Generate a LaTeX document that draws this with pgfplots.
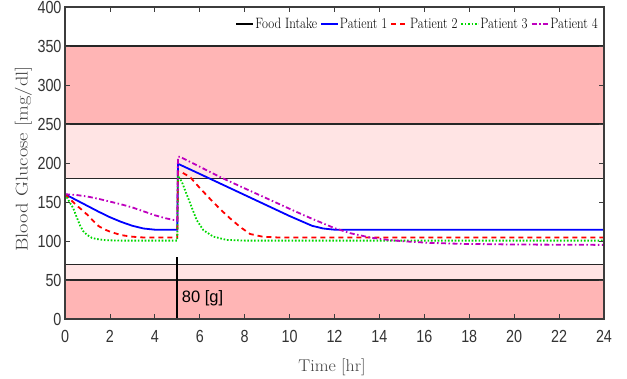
\documentclass[border=0pt]{standalone}
\usepackage{fontspec}
\usepackage{pgfplots}
\pgfplotsset{compat=1.18}
\newfontfamily\ticksf[FakeStretch=0.82]{Liberation Sans}
\newfontfamily\annsf{Liberation Sans}
\definecolor{bandD}{RGB}{255,181,181}
\definecolor{bandL}{RGB}{255,228,228}
\definecolor{pgreen}{RGB}{0,215,0}
\definecolor{pmag}{RGB}{190,0,190}
\definecolor{frame}{RGB}{60,60,60}
\begin{document}
\begin{tikzpicture}
\useasboundingbox (-65pt,-60pt) rectangle (562pt,319pt);
\begin{axis}[
  at={(0pt,0pt)}, anchor=south west,
  scale only axis, width=539pt, height=312pt,
  xmin=0, xmax=24, ymin=0, ymax=400,
  xtick={0,2,...,24}, ytick={0,50,...,400},
  tick align=inside, major tick length=5pt,
  axis on top,
  axis line style={draw=frame, line width=1.2pt},
  every tick/.style={frame, line width=0.8pt},
  /pgf/number format/assume math mode=true,
  tick label style={font=\fontsize{17.5}{17.5}\selectfont\ticksf, text=black!80},
  xticklabel style={yshift=-7.5pt},
  xlabel={\scalebox{1.05}[1]{Time [hr]}},
  xlabel style={font=\fontsize{17}{17}\selectfont, at={(axis description cs:0.5,0)}, anchor=north, inner sep=0pt, yshift=-40pt, xshift=-2.5pt, text=black!75},
  ylabel={\scalebox{1}[0.83]{Blood Glucose [mg/dl]}},
  ylabel style={font=\fontsize{20.5}{20.5}\selectfont, at={(axis description cs:-0.0612,0.513)}, anchor=south, inner sep=0pt, text=black!75},
  legend columns=5,
  legend style={draw=none, fill=none, at={(axis description cs:1,1)}, anchor=north east, xshift=-5pt, yshift=-10pt, inner sep=0pt, font=\fontsize{15}{15}\selectfont, nodes={inner sep=1pt}, /tikz/every even column/.append style={column sep=2pt}},
  legend image code/.code={\draw[#1] (0pt,0pt) -- (17pt,0pt);},
]
% bands
\addplot[forget plot, draw=none, fill=bandD] coordinates {(0,0)(24,0)(24,50)(0,50)};
\addplot[forget plot, draw=none, fill=bandL] coordinates {(0,50)(24,50)(24,70)(0,70)};
\addplot[forget plot, draw=none, fill=bandL] coordinates {(0,180)(24,180)(24,250)(0,250)};
\addplot[forget plot, draw=none, fill=bandD] coordinates {(0,250)(24,250)(24,350)(0,350)};
% band borders
\addplot[forget plot, black!85, line width=1.1pt] coordinates {(0,50)(24,50)};
\addplot[forget plot, black!85, line width=1.1pt] coordinates {(0,70)(24,70)};
\addplot[forget plot, black!85, line width=1.1pt] coordinates {(0,180)(24,180)};
\addplot[forget plot, black!85, line width=1.1pt] coordinates {(0,250)(24,250)};
\addplot[forget plot, black!85, line width=1.1pt] coordinates {(0,350)(24,350)};
% food intake
\addplot[black, line width=1.6pt] coordinates {(5,0)(5,80)};
\addlegendentry{\scalebox{0.86}[1]{Food Intake}}
% patient 1
\addplot[blue, line width=1.8pt] coordinates {
(0,160)(0.5,152.5)(1,145)(1.5,137.5)(2,130.5)(2.5,124.5)(3,119.5)(3.5,116)(4,114.5)(5,114.5)
(5.03,199)(6,186)(7,172.5)(8,159)(9,145.5)(10,132)(11,119.5)(11.5,116)(12,114.5)(24,114.5)};
\addlegendentry{\scalebox{0.86}[1]{Patient 1}}
% patient 2
\addplot[red, line width=1.8pt, dash pattern=on 5pt off 4pt] coordinates {
(0,160)(0.25,153)(0.5,146)(0.75,140)(1,133.5)(1.25,126)(1.5,119)(1.75,115)(2,112)(2.5,107.5)(3,105.5)(3.5,104.5)(5,104.5)
(5.03,189)(5.2,188)(5.57,182)(6,168)(6.46,154)(6.9,141)(7.35,129)(7.8,118)(8.24,109)(8.8,105.5)(9.5,104.5)(24,104.5)};
\addlegendentry{\scalebox{0.86}[1]{Patient 2}}
% patient 3
\addplot[pgreen, line width=1.8pt, dash pattern=on 1.6pt off 1.8pt] coordinates {
(0,160)(0.2,150)(0.37,142)(0.5,132)(0.67,120)(0.8,113)(0.97,108)(1.2,104)(1.41,102.5)(1.8,101)(2.5,100.5)(5,100.5)
(5.03,183.6)(5.2,176)(5.34,165.6)(5.57,148.5)(5.86,127)(6.16,114)(6.6,105.6)(7.2,101.4)(8,100.5)(24,100.5)};
\addlegendentry{\scalebox{0.86}[1]{Patient 3}}
% patient 4
\addplot[pmag, line width=1.8pt, dash pattern=on 5pt off 2.5pt on 1.5pt off 2.5pt] coordinates {
(0,160)(0.5,159)(1,157)(1.5,154)(2,150.5)(2.5,147)(3,143)(3.5,138)(4,133)(4.5,129)(5,126)
(5.03,208)(5.12,208)(6,195.2)(7,180.7)(8,167.5)(9,154.4)(10,141.3)(10.6,133.5)(11,128.5)(11.5,122.5)(12,116.5)(12.7,110)(13.6,104.4)(14.5,101)(15.4,99)(16.25,97.6)(17.7,96.3)(20,95.5)(24,95)};
\addlegendentry{\scalebox{0.86}[1]{Patient 4}}
\node[anchor=west, inner sep=0pt, font=\fontsize{16.5}{16.5}\selectfont\annsf] at (axis cs:5.2,27) {80 [g]};
\end{axis}
\end{tikzpicture}
\end{document}
